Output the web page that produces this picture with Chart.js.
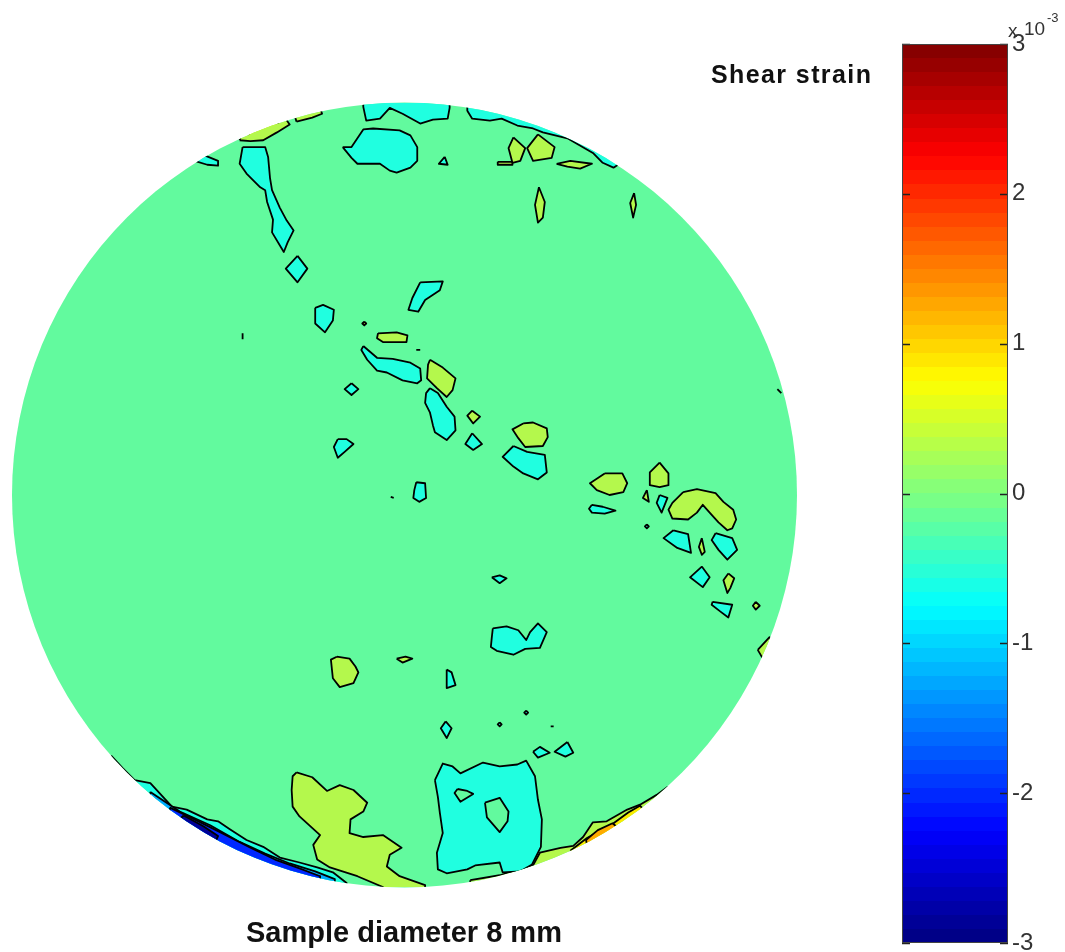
<!DOCTYPE html>
<html>
<head>
<meta charset="utf-8">
<script src="https://cdn.jsdelivr.net/npm/chart.js@4.4.1/dist/chart.umd.min.js"></script>
<style>
  body { margin: 0; background: #fff; }
  #wrap { position: relative; width: 1065px; height: 952px; overflow: hidden; }
  canvas { position: absolute; top: 0; }
  .lbl { position: absolute; line-height: 1; white-space: nowrap; font-family: "Liberation Sans", Arial, sans-serif; color: #111; }
</style>
</head>
<body>
<div id="wrap">
  <canvas id="strainMap" width="880" height="952" style="left:0"></canvas>
  <canvas id="colorBar" width="185" height="952" style="left:880px"></canvas>
  <div class="lbl" style="left:711px;top:62px;font-size:25px;font-weight:bold;letter-spacing:1.4px">Shear strain</div>
  <div class="lbl" style="left:0;width:808px;text-align:center;top:918px;font-size:29px;font-weight:bold">Sample diameter 8 mm</div>
  <div class="lbl" style="left:1008px;top:21px;font-size:19px;color:#333">x</div>
  <div class="lbl" style="left:1024px;top:19px;font-size:19px;color:#333">10</div>
  <div class="lbl" style="left:1047px;top:11px;font-size:13px;color:#333">-3</div>
</div>
<script>
// sample: 8 mm diameter, coordinates in mm from the centre
var sampleRadius = 4;

// contour patches, flat [x, y, x, y ...] in mm
var cyanPatches = [
  [-0.42,4.08, -0.42,3.96, -0.39,3.82, -0.25,3.84, -0.15,3.95, -0.02,3.89, 0.16,3.79, 0.29,3.83, 0.44,3.84, 0.46,3.95, 0.46,4.08],
  [-0.63,3.55, -0.54,3.55, -0.42,3.73, -0.32,3.74, -0.05,3.72, 0.06,3.67, 0.13,3.55, 0.13,3.41, 0.06,3.34, -0.08,3.29, -0.15,3.31, -0.25,3.38, -0.35,3.38, -0.48,3.38, -0.54,3.44],
  [-1.65,3.55, -1.42,3.55, -1.39,3.45, -1.37,3.23, -1.35,3.11, -1.27,2.93, -1.20,2.80, -1.13,2.70, -1.19,2.58, -1.23,2.48, -1.35,2.68, -1.34,2.81, -1.40,2.99, -1.42,3.11, -1.47,3.14, -1.61,3.28, -1.68,3.38],
  [-1.09,2.44, -0.99,2.31, -1.09,2.17, -1.21,2.31],
  [0.41,3.45, 0.44,3.37, 0.35,3.38],
  [0.16,2.17, 0.39,2.18, 0.36,2.09, 0.21,1.99, 0.14,1.87, 0.04,1.89, 0.08,2.01],
  [-2.10,3.52, -2.05,3.47, -1.90,3.41, -1.90,3.36, -2.01,3.37, -2.14,3.41],
  [-0.91,1.91, -0.83,1.94, -0.72,1.89, -0.73,1.78, -0.81,1.66, -0.91,1.75],
  [-0.42,1.52, -0.28,1.40, -0.12,1.39, 0.06,1.35, 0.16,1.29, 0.17,1.17, 0.13,1.14, -0.02,1.17, -0.18,1.25, -0.28,1.27, -0.38,1.38, -0.44,1.48],
  [-0.54,1.14, -0.47,1.08, -0.54,1.02, -0.61,1.08],
  [0.26,1.09, 0.34,1.04, 0.43,0.90, 0.51,0.80, 0.52,0.66, 0.43,0.56, 0.31,0.64, 0.29,0.71, 0.26,0.84, 0.21,0.94, 0.22,1.04],
  [0.69,0.63, 0.79,0.52, 0.70,0.46, 0.62,0.52],
  [1.11,0.50, 1.25,0.44, 1.43,0.41, 1.45,0.23, 1.36,0.16, 1.21,0.22, 1.11,0.29, 1.00,0.39],
  [-0.68,0.57, -0.59,0.57, -0.52,0.52, -0.61,0.44, -0.68,0.38, -0.72,0.49],
  [0.12,0.13, 0.21,0.12, 0.22,-0.03, 0.15,-0.07, 0.09,-0.03, 0.10,0.05],
  [2.60,0.00, 2.68,-0.03, 2.62,-0.18, 2.57,-0.08],
  [1.91,-0.10, 2.02,-0.12, 2.15,-0.16, 2.04,-0.19, 1.91,-0.18, 1.88,-0.14],
  [2.47,-0.30, 2.49,-0.32, 2.47,-0.34, 2.45,-0.32],
  [2.74,-0.36, 2.89,-0.40, 2.92,-0.59, 2.78,-0.54, 2.64,-0.44],
  [3.17,-0.39, 3.34,-0.44, 3.39,-0.56, 3.29,-0.66, 3.20,-0.56, 3.13,-0.46],
  [3.03,-0.73, 3.11,-0.84, 3.04,-0.94, 2.91,-0.84],
  [3.14,-1.09, 3.34,-1.12, 3.30,-1.25, 3.22,-1.19, 3.13,-1.12],
  [0.89,-0.84, 0.97,-0.82, 1.04,-0.85, 0.97,-0.90],
  [0.90,-1.36, 1.04,-1.34, 1.16,-1.38, 1.24,-1.48, 1.28,-1.40, 1.36,-1.31, 1.45,-1.40, 1.38,-1.56, 1.23,-1.57, 1.11,-1.63, 0.94,-1.59, 0.88,-1.55, 0.89,-1.45],
  [0.43,-1.78, 0.48,-1.81, 0.52,-1.94, 0.43,-1.97],
  [0.42,-2.31, 0.48,-2.38, 0.43,-2.48, 0.37,-2.38],
  [1.24,-2.20, 1.26,-2.22, 1.24,-2.24, 1.22,-2.22],
  [0.97,-2.32, 0.99,-2.34, 0.97,-2.36, 0.95,-2.34],
  [1.31,-2.62, 1.38,-2.57, 1.48,-2.63, 1.36,-2.68],
  [1.66,-2.52, 1.72,-2.63, 1.64,-2.67, 1.53,-2.62],
  [0.31,-2.91, 0.39,-2.74, 0.49,-2.77, 0.57,-2.84, 0.80,-2.73, 0.97,-2.77, 1.15,-2.75, 1.24,-2.71, 1.33,-2.87, 1.36,-3.11, 1.40,-3.31, 1.39,-3.59, 1.30,-3.77, 1.18,-3.84, 1.00,-3.85, 0.97,-3.75, 0.72,-3.78, 0.64,-3.82, 0.43,-3.86, 0.34,-3.82, 0.33,-3.65, 0.39,-3.45, 0.36,-3.24, 0.34,-3.08]
];

var yellowGreenPatches = [
  [1.11,3.65, 1.23,3.54, 1.18,3.41, 1.10,3.39, 1.06,3.54],
  [0.95,3.40, 1.10,3.40, 1.10,3.37, 0.95,3.37],
  [1.36,3.68, 1.53,3.55, 1.50,3.44, 1.31,3.41, 1.25,3.54],
  [1.55,3.38, 1.69,3.41, 1.91,3.38, 1.79,3.33, 1.66,3.35],
  [1.37,3.14, 1.43,2.99, 1.41,2.83, 1.36,2.78, 1.33,2.96],
  [2.34,3.08, 2.36,2.96, 2.33,2.83, 2.30,2.98],
  [-1.68,3.62, -1.57,3.61, -1.44,3.62, -1.30,3.70, -1.17,3.78, -1.27,3.92, -1.63,3.77],
  [-1.10,3.81, -0.94,3.85, -0.84,3.89, -0.86,3.95, -1.12,3.87],
  [-0.41,1.77, -0.39,1.75, -0.41,1.73, -0.43,1.75],
  [-0.27,1.65, -0.08,1.66, 0.03,1.63, 0.02,1.56, -0.22,1.56, -0.28,1.60],
  [0.26,1.38, 0.39,1.30, 0.52,1.19, 0.49,1.07, 0.43,1.00, 0.33,1.09, 0.23,1.19, 0.24,1.33],
  [0.69,0.86, 0.77,0.80, 0.70,0.73, 0.64,0.81],
  [1.21,0.73, 1.31,0.74, 1.45,0.68, 1.46,0.59, 1.41,0.50, 1.23,0.49, 1.16,0.58, 1.10,0.67],
  [2.04,0.22, 2.22,0.22, 2.27,0.12, 2.23,0.03, 2.09,0.00, 1.96,0.05, 1.89,0.12],
  [2.60,0.33, 2.69,0.22, 2.69,0.10, 2.60,0.08, 2.50,0.10, 2.50,0.23],
  [2.47,0.05, 2.49,-0.07, 2.43,-0.03],
  [2.84,0.03, 2.98,0.06, 3.17,0.02, 3.25,-0.07, 3.35,-0.15, 3.38,-0.25, 3.34,-0.34, 3.29,-0.36, 3.20,-0.28, 3.11,-0.18, 3.04,-0.10, 2.98,-0.18, 2.89,-0.25, 2.73,-0.24, 2.69,-0.15, 2.73,-0.08],
  [3.03,-0.44, 3.06,-0.58, 3.03,-0.61, 3.00,-0.53],
  [3.30,-0.80, 3.36,-0.85, 3.32,-0.95, 3.29,-1.00, 3.25,-0.87],
  [3.58,-1.09, 3.62,-1.13, 3.58,-1.17, 3.55,-1.13],
  [3.60,-1.58, 3.72,-1.45, 3.80,-1.60, 3.67,-1.70],
  [-0.69,-1.65, -0.56,-1.67, -0.50,-1.75, -0.47,-1.81, -0.52,-1.92, -0.66,-1.96, -0.73,-1.87, -0.75,-1.68],
  [-0.08,-1.67, 0.01,-1.65, 0.08,-1.67, -0.02,-1.71],
  [-1.10,-2.83, -0.94,-2.88, -0.79,-3.02, -0.66,-2.96, -0.52,-3.01, -0.38,-3.14, -0.42,-3.23, -0.55,-3.31, -0.56,-3.45, -0.42,-3.49, -0.22,-3.47, -0.03,-3.60, -0.15,-3.67, -0.18,-3.79, -0.05,-3.89, 0.21,-3.98, 0.21,-4.10, -0.22,-4.10, -0.22,-4.00, -0.48,-3.89, -0.76,-3.80, -0.89,-3.72, -0.93,-3.57, -0.86,-3.47, -1.07,-3.28, -1.14,-3.18, -1.15,-3.01, -1.14,-2.87]
];

// green islands inside the big cyan patch
var greenHoles = [
  [0.54,-3.00, 0.64,-3.02, 0.70,-3.05, 0.57,-3.13, 0.51,-3.04],
  [0.82,-3.14, 0.97,-3.09, 1.06,-3.23, 1.05,-3.33, 0.97,-3.44, 0.84,-3.29]
];

// bands along the rim (outer points lie outside the sample)
var rimCyan = [
  [0.64,3.92, 0.69,3.84, 0.87,3.82, 0.99,3.84, 1.15,3.77, 1.31,3.74, 1.41,3.70, 1.66,3.64, 1.92,3.49, 2.02,3.39, 2.13,3.34, 2.40,3.52, 0.97,4.13, 0.64,4.08],
  [-2.75,-2.91, -2.59,-2.94, -2.37,-3.18, -2.22,-3.21, -2.01,-3.31, -1.90,-3.33, -1.78,-3.41, -1.61,-3.52, -1.44,-3.59, -1.27,-3.70, -1.07,-3.75, -0.89,-3.80, -0.73,-3.85, -0.59,-3.96, -0.56,-4.30, -3.20,-4.30, -3.20,-2.80]
];
var rimAzure = [
  [-2.59,-3.03, -2.29,-3.23, -1.98,-3.37, -1.68,-3.54, -1.42,-3.66, -1.17,-3.76, -0.91,-3.84, -0.71,-3.92, -0.71,-4.30, -2.70,-4.30]
];
var rimBlue = [
  [-2.39,-3.19, -2.14,-3.31, -1.88,-3.44, -1.57,-3.60, -1.32,-3.72, -1.07,-3.81, -0.86,-3.89, -0.86,-4.30, -2.50,-4.30]
];
var rimNavy = [
  [-2.25,-3.27, -2.05,-3.38, -1.90,-3.48, -2.00,-3.70, -2.40,-3.40]
];
var rimYellowGreen = [
  [0.67,-3.93, 0.97,-3.88, 1.31,-3.78, 1.38,-3.65, 1.59,-3.60, 1.72,-3.58, 1.82,-3.49, 1.92,-3.34, 2.06,-3.33, 2.27,-3.21, 2.40,-3.16, 2.57,-3.06, 2.68,-2.98, 3.22,-3.11, 3.01,-4.13, 0.67,-4.13]
];
var rimYellow = [
  [1.69,-3.63, 1.86,-3.50, 1.99,-3.43, 2.13,-3.35, 2.28,-3.24, 2.40,-3.17, 2.60,-3.40, 1.80,-4.00],
  [-1.58,3.62, -1.33,3.72, -1.25,3.85, -1.60,3.80]
];
var rimOrange = [
  [1.85,-3.52, 1.97,-3.42, 2.12,-3.35, 2.30,-3.50, 1.90,-3.80]
];

// tiny contour specks drawn as bare lines
var strayLines = [
  [-1.65,1.65, -1.65,1.59],
  [0.12,1.48, 0.16,1.48],
  [-0.14,-0.02, -0.11,-0.03],
  [1.49,-2.36, 1.52,-2.36],
  [3.80,1.08, 3.84,1.04],
  [-2.99,-2.66, -2.87,-2.79, -2.75,-2.91]
];

// colour bar
var barMin = -3;
var barMax = 3;
var barTicks = [-3, -2, -1, 0, 1, 2, 3];
var barLevels = 64;

var baseGreen = 'rgb(98,250,158)';

function toPoints(flat, closed) {
    var pts = [];
    for (var i = 0; i < flat.length; i += 2) {
        pts.push({ x: flat[i], y: flat[i + 1] });
    }
    if (closed) pts.push({ x: flat[0], y: flat[1] });
    return pts;
}

var mapSets = [];
function addPatches(list, colour, order) {
    list.forEach(function (p) {
        mapSets.push({
            data: toPoints(p, true),
            backgroundColor: colour,
            borderColor: '#000',
            borderWidth: 1.8,
            borderJoinStyle: 'round',
            fill: 'shape',
            pointRadius: 0,
            tension: 0,
            order: order
        });
    });
}
addPatches(rimCyan, 'rgb(32,255,224)', 20);
addPatches(rimAzure, 'rgb(0,170,255)', 19);
addPatches(rimBlue, 'rgb(0,40,255)', 18);
addPatches(rimNavy, 'rgb(0,0,150)', 17);
addPatches(rimYellowGreen, 'rgb(180,248,76)', 20);
addPatches(rimYellow, 'rgb(250,235,0)', 19);
addPatches(rimOrange, 'rgb(255,170,0)', 18);
addPatches(cyanPatches, 'rgb(32,255,224)', 10);
addPatches(yellowGreenPatches, 'rgb(180,248,76)', 10);
addPatches(greenHoles, baseGreen, 5);
strayLines.forEach(function (p) {
    mapSets.push({
        data: toPoints(p, false),
        borderColor: '#000',
        borderWidth: 1.8,
        fill: false,
        pointRadius: 0,
        order: 1
    });
});

// round sample: fill it and clip every contour to it
var sampleClip = {
    id: 'sampleClip',
    beforeDatasetsDraw: function (chart) {
        var ctx = chart.ctx, sx = chart.scales.x, sy = chart.scales.y;
        var cx = sx.getPixelForValue(0), cy = sy.getPixelForValue(0);
        var r = sx.getPixelForValue(sampleRadius) - cx;
        ctx.save();
        ctx.beginPath();
        ctx.arc(cx, cy, r, 0, Math.PI * 2);
        ctx.fillStyle = baseGreen;
        ctx.fill();
        ctx.clip();
    },
    afterDatasetsDraw: function (chart) {
        chart.ctx.restore();
    }
};

var strainMap = new Chart('strainMap', {
    type: 'line',
    data: { datasets: mapSets },
    options: {
        responsive: false,
        animation: false,
        layout: { padding: { left: 12, right: 83, top: 103, bottom: 65 } },
        plugins: { legend: { display: false }, tooltip: { enabled: false } },
        scales: {
            x: { type: 'linear', min: -sampleRadius, max: sampleRadius, display: false },
            y: { type: 'linear', min: -sampleRadius, max: sampleRadius, display: false }
        }
    },
    plugins: [sampleClip]
});

// jet colour map, stepped like a 64 entry table
function jet(t) {
    function ch(v) { return Math.round(255 * Math.max(0, Math.min(1, v))); }
    var r = 1.5 - Math.abs(4 * t - 3);
    var g = 1.5 - Math.abs(4 * t - 2);
    var b = 1.5 - Math.abs(4 * t - 1);
    return 'rgb(' + ch(r) + ',' + ch(g) + ',' + ch(b) + ')';
}

var barPaint = {
    id: 'barPaint',
    beforeDatasetsDraw: function (chart) {
        var ctx = chart.ctx, a = chart.chartArea;
        var g = ctx.createLinearGradient(0, a.bottom, 0, a.top);
        for (var i = 0; i < barLevels; i++) {
            var c = jet((i + 0.5) / barLevels);
            g.addColorStop(i / barLevels, c);
            g.addColorStop((i + 1) / barLevels, c);
        }
        ctx.fillStyle = g;
        ctx.fillRect(a.left, a.top, a.right - a.left, a.bottom - a.top);
    },
    afterDraw: function (chart) {
        var ctx = chart.ctx, a = chart.chartArea, sy = chart.scales.y;
        ctx.save();
        ctx.strokeStyle = '#222';
        ctx.lineWidth = 1.5;
        barTicks.forEach(function (v) {
            var y = Math.round(sy.getPixelForValue(v)) + 0.5;
            ctx.beginPath();
            ctx.moveTo(a.left, y); ctx.lineTo(a.left + 8, y);
            ctx.moveTo(a.right - 8, y); ctx.lineTo(a.right, y);
            ctx.stroke();
        });
        ctx.strokeStyle = '#444';
        ctx.lineWidth = 1;
        ctx.strokeRect(a.left + 0.5, a.top + 0.5, a.right - a.left - 1, a.bottom - a.top - 1);
        ctx.restore();
    }
};

var colorBar = new Chart('colorBar', {
    type: 'line',
    data: { datasets: [{ data: [] }] },
    options: {
        responsive: false,
        animation: false,
        layout: { padding: { left: 22, right: 0, top: 44, bottom: 9 } },
        plugins: { legend: { display: false }, tooltip: { enabled: false } },
        scales: {
            x: { type: 'linear', min: 0, max: 1, display: false },
            y: {
                type: 'linear',
                position: 'right',
                min: barMin,
                max: barMax,
                afterBuildTicks: function (scale) {
                    scale.ticks = barTicks.map(function (v) { return { value: v }; });
                },
                afterFit: function (scale) {
                    scale.width = 57;
                    scale.paddingTop = 0;
                    scale.paddingBottom = 0;
                },
                grid: { display: false, drawTicks: false },
                border: { display: false },
                ticks: {
                    padding: 4,
                    color: '#333',
                    font: { family: 'Liberation Sans', size: 24 }
                }
            }
        }
    },
    plugins: [barPaint]
});
</script>
</body>
</html>
